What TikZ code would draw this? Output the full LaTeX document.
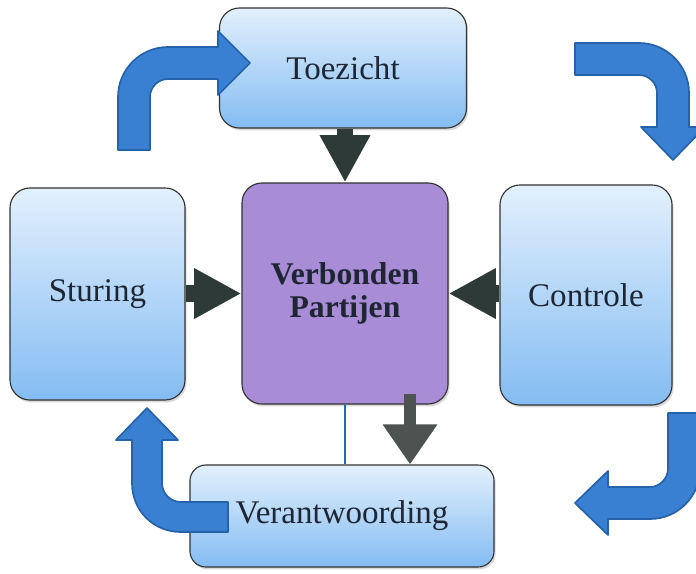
\documentclass[tikz,border=0pt]{standalone}
\usepackage{fontspec}
\setmainfont{Liberation Serif}
\usepackage{tikz}
\usetikzlibrary{calc,positioning,arrows.meta,shadows}

\definecolor{boxtop}{RGB}{226,240,253}
\definecolor{boxbot}{RGB}{132,188,242}
\definecolor{partij}{RGB}{168,140,214}
\definecolor{donker}{RGB}{45,58,56}
\definecolor{grijs}{RGB}{76,83,81}
\definecolor{tekst}{RGB}{30,38,52}
\definecolor{pijlblauw}{RGB}{58,128,210}
\definecolor{pijlrand}{RGB}{38,98,170}
\definecolor{lijnblauw}{RGB}{31,107,191}

\tikzset{
	blok/.style={draw=black!80, line width=.8pt, rounded corners=.5cm, inner sep=0pt,
		top color=boxtop, bottom color=boxbot, text=tekst,
		font=\fontsize{23.5}{26}\selectfont,
		drop shadow={shadow xshift=.04cm, shadow yshift=-.06cm, opacity=.3}},
	pijl/.style={line width=.42cm, draw=donker, -{Triangle[length=1.18cm,width=1.18cm]}},
	bocht/.style={fill=pijlblauw, draw=pijlrand, line width=1.2pt, line join=round},
}

\begin{document}
\begin{tikzpicture}[x=.025cm,y=-.025cm]
		\useasboundingbox (0,0) rectangle (696,573);
		\clip (0,0) rectangle (696,573);

		\node[blok, minimum width=6.175cm, minimum height=3cm] (toez) at (343,68) {Toezicht};
		\node[blok, minimum width=4.375cm, minimum height=5.3cm] (stur) at (97.5,294) {Sturing};
		\node[blok, minimum width=4.3cm, minimum height=5.5cm] (contr) at (586,295) {Controle};
		\node[blok, minimum width=7.6cm, minimum height=2.55cm, rounded corners=.4cm] (verant) at (342,516) {Verantwoording};
		\node[blok, top color=partij, bottom color=partij, minimum width=5.15cm, minimum height=5.525cm,
			align=center, font=\fontsize{22.5}{24}\selectfont\bfseries] (verb) at (345,293.5) {Verbonden\\Partijen};

		\draw[pijl] (toez.south -| verb.north) -- (verb.north);
		\draw[pijl] (stur.east |- verb.west) -- (verb.west);
		\draw[pijl] (contr.west |- verb.east) -- (verb.east);
		\draw[lijnblauw, line width=1.5pt] (verb.south) -- (verb.south |- verant.north);
		\coordinate (uit) at ([xshift=1.625cm,yshift=.275cm]verb.south);
		\draw[pijl, draw=grijs, line width=.32cm, -{Triangle[length=1cm,width=1.3cm]}] (uit) -- (uit |- verant.north);

		% gebogen pijlen
		\path[bocht] (118,150) -- (118,97) .. controls (118,69.4) and (140.4,47) .. (168,47) -- (218,47) -- (218,31)
			-- (250,63) -- (218,95) -- (218,79) -- (168,79) .. controls (158.1,79) and (150,87.1) .. (150,97) -- (150,150) -- cycle;
		\path[bocht] (575,43) -- (639,43) .. controls (666.6,43) and (689,65.4) .. (689,93) -- (689,127) -- (705,127)
			-- (673,160) -- (641,127) -- (657,127) -- (657,93) .. controls (657,83.1) and (648.9,75) .. (639,75) -- (575,75) -- cycle;
		\path[bocht] (668,413) -- (700,413) -- (700,469) .. controls (700,496.6) and (677.6,519) .. (650,519) -- (608,519)
			-- (608,535) -- (575,503) -- (608,471) -- (608,487) -- (650,487) .. controls (659.9,487) and (668,478.1) .. (668,469) -- cycle;
		\path[bocht] (228,502) -- (181,502) .. controls (170.5,502) and (162,493.5) .. (162,483) -- (162,440) -- (178,440)
			-- (147,408) -- (116,440) -- (132,440) -- (132,483) .. controls (132,510.6) and (153.4,532) .. (181,532) -- (228,532) -- cycle;
	\end{tikzpicture}
\end{document}
